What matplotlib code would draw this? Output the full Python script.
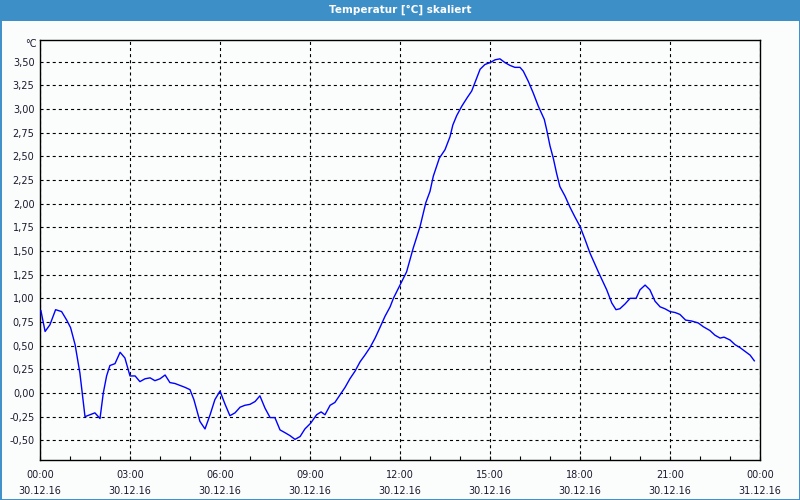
import matplotlib
matplotlib.use("Agg")
import matplotlib.pyplot as plt
from matplotlib.patches import Rectangle
from matplotlib.ticker import FixedLocator, MultipleLocator

plt.rcParams['lines.scale_dashes'] = False

# Data: hours since 30.12.16 00:00, temperature in °C
hours = [0.03, 0.17, 0.33, 0.52, 0.72, 0.89, 1.02, 1.17, 1.33, 1.50, 1.67, 1.83, 2.00,
         2.11, 2.22, 2.33, 2.50, 2.67, 2.83, 3.00, 3.17, 3.33, 3.50, 3.67, 3.83, 4.00,
         4.17, 4.33, 4.50, 4.67, 4.83, 5.00, 5.13, 5.33, 5.50, 5.67, 5.83, 6.00, 6.17,
         6.33, 6.50, 6.67, 6.83, 7.00, 7.17, 7.33, 7.50, 7.67, 7.83, 8.00, 8.17, 8.33,
         8.50, 8.67, 8.83, 9.02, 9.22, 9.37, 9.50, 9.67, 9.83, 10.00, 10.17, 10.33,
         10.50, 10.67, 10.83, 11.00, 11.17, 11.33, 11.50, 11.67, 11.78, 12.00, 12.22,
         12.44, 12.67, 12.86, 13.00, 13.11, 13.31, 13.50, 13.67, 13.76, 13.89, 14.06,
         14.24, 14.39, 14.56, 14.67, 14.83, 15.00, 15.17, 15.33, 15.50, 15.67, 15.83,
         16.00, 16.11, 16.28, 16.44, 16.61, 16.81, 16.89, 17.00, 17.11, 17.22, 17.33,
         17.50, 17.67, 17.83, 18.00, 18.17, 18.33, 18.61, 18.89, 19.06, 19.20, 19.33,
         19.50, 19.67, 19.87, 20.00, 20.17, 20.33, 20.50, 20.67, 20.83, 21.00, 21.17,
         21.33, 21.52, 21.72, 21.94, 22.11, 22.33, 22.50, 22.67, 22.80, 23.00, 23.17,
         23.33, 23.50, 23.67, 23.81]
temps = [0.87, 0.65, 0.72, 0.88, 0.86, 0.77, 0.69, 0.51, 0.21, -0.25, -0.23, -0.21, -0.27,
         0.00, 0.18, 0.29, 0.31, 0.43, 0.37, 0.18, 0.18, 0.12, 0.15, 0.16, 0.13, 0.15,
         0.19, 0.11, 0.10, 0.08, 0.06, 0.035, -0.07, -0.30, -0.38, -0.23, -0.07, 0.02, -0.12,
         -0.24, -0.21, -0.15, -0.13, -0.12, -0.09, -0.03, -0.16, -0.26, -0.26, -0.39, -0.42, -0.45,
         -0.49, -0.46, -0.38, -0.32, -0.23, -0.20, -0.23, -0.13, -0.10, -0.02, 0.06, 0.15,
         0.23, 0.33, 0.40, 0.48, 0.58, 0.69, 0.81, 0.91, 1.00, 1.14, 1.28,
         1.53, 1.76, 2.01, 2.13, 2.29, 2.48, 2.57, 2.71, 2.83, 2.93, 3.03,
         3.12, 3.19, 3.33, 3.42, 3.47, 3.49, 3.52, 3.53, 3.49, 3.46, 3.44,
         3.44, 3.40, 3.29, 3.17, 3.03, 2.89, 2.78, 2.61, 2.48, 2.32, 2.18,
         2.08, 1.96, 1.86, 1.76, 1.62, 1.48, 1.28, 1.09, 0.95, 0.88, 0.89,
         0.94, 1.00, 1.00, 1.09, 1.14, 1.09, 0.97, 0.91, 0.89, 0.86, 0.85,
         0.83, 0.77, 0.76, 0.74, 0.70, 0.66, 0.61, 0.58, 0.59, 0.56, 0.51,
         0.48, 0.44, 0.40, 0.34]

x_tick_hours = [0, 3, 6, 9, 12, 15, 18, 21, 24]
x_tick_labels = ["00:00\n30.12.16", "03:00\n30.12.16", "06:00\n30.12.16", "09:00\n30.12.16",
                 "12:00\n30.12.16", "15:00\n30.12.16", "18:00\n30.12.16", "21:00\n30.12.16",
                 "00:00\n31.12.16"]
y_tick_values = [-0.50, -0.25, 0.00, 0.25, 0.50, 0.75, 1.00, 1.25, 1.50, 1.75, 2.00,
                 2.25, 2.50, 2.75, 3.00, 3.25, 3.50]
y_tick_labels = ["-0,50", "-0,25", "0,00", "0,25", "0,50", "0,75", "1,00", "1,25", "1,50",
                 "1,75", "2,00", "2,25", "2,50", "2,75", "3,00", "3,25", "3,50"]

W, H = 800, 500
bg = '#fafdfb'
fig = plt.figure(figsize=(8, 5), dpi=100, facecolor=bg)

# title bar
fig.patches.append(Rectangle((0, 1 - 21 / H), 1, 21 / H, transform=fig.transFigure,
                             facecolor='#3d8fc7', edgecolor='none', zorder=0))
fig.text(0.5, 1 - 10 / H, "Temperatur [°C] skaliert", color='white', fontsize=7.5,
         fontweight='bold', ha='center', va='center', family='DejaVu Sans')
# border
fig.patches.append(Rectangle((0.5 / W, 0.5 / H), 1 - 1 / W, 1 - 1 / H, transform=fig.transFigure,
                             facecolor='none', edgecolor='#3d8fc7', lw=1.4, zorder=5))

ax = fig.add_axes([40 / W, 1 - 460 / H, 720 / W, 420 / H])
ax.set_facecolor(bg)
ax.plot(hours, temps, color='#0000ff', lw=1.0, zorder=3)

ax.set_xlim(0, 24)
ax.set_ylim(-0.708, 3.729)

ax.xaxis.set_major_locator(FixedLocator(x_tick_hours))
ax.set_xticklabels(x_tick_labels, fontsize=7, color='#1a1a2e', linespacing=1.75)
ax.xaxis.set_minor_locator(MultipleLocator(1))
ax.yaxis.set_major_locator(FixedLocator(y_tick_values))
ax.set_yticklabels(y_tick_labels, fontsize=7, color='#1a1a2e')

ax.tick_params(axis='x', which='both', direction='in', length=3, width=0.8, pad=7)
ax.tick_params(axis='y', which='both', length=0, pad=4)

ax.grid(True, which='major', color='black', lw=0.8, linestyle=(0, (2.2, 2.2)))
for s in ax.spines.values():
    s.set_color('black')
    s.set_linewidth(1.0)

ax.text(-0.004, 1.0 - 4 / 420, "°C", transform=ax.transAxes, ha='right', va='center',
        fontsize=7, color='#1a1a2e')

fig.savefig("out.png", dpi=100, facecolor=bg)
